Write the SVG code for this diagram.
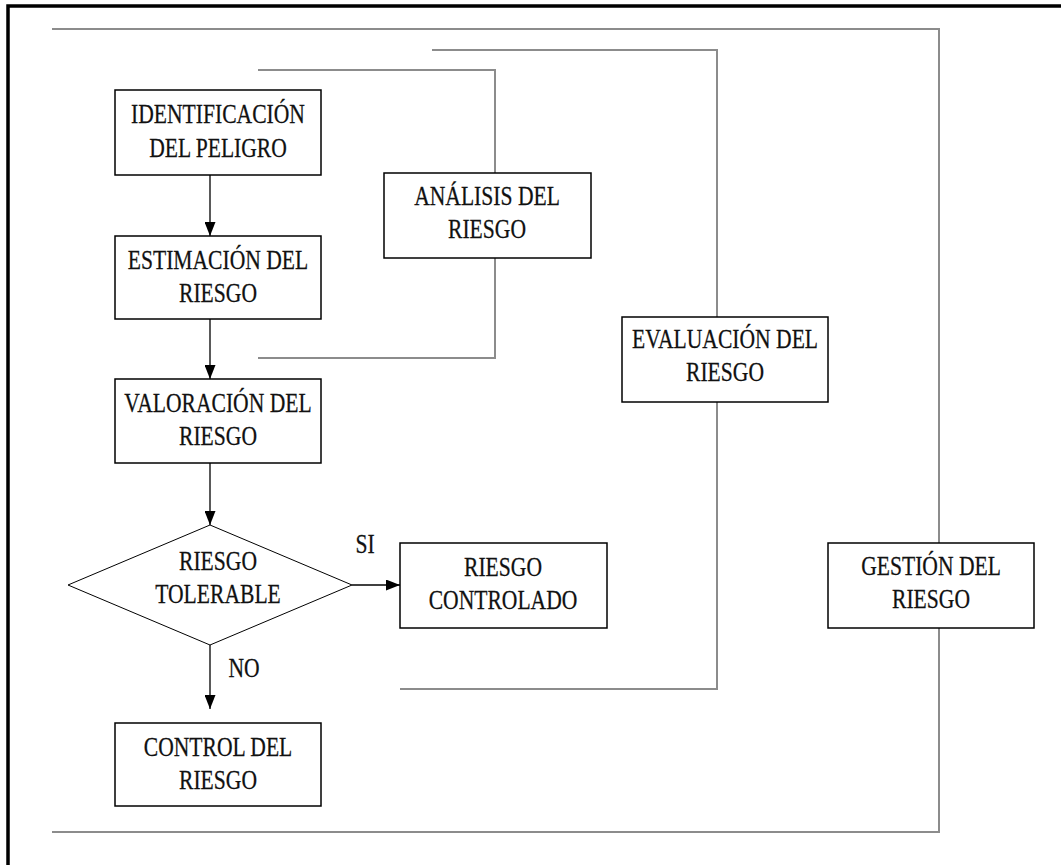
<svg xmlns="http://www.w3.org/2000/svg" width="1061" height="865" viewBox="0 0 1061 865" font-family="Liberation Serif, DejaVu Serif, serif">
<style>
.box{fill:#fff;stroke:#000;stroke-width:1.5}
.dia{fill:#fff;stroke:#000;stroke-width:1}
.br{fill:none;stroke:#8c8c8c;stroke-width:2}
.ar{fill:none;stroke:#000;stroke-width:1.3}
.t{font-family:'Liberation Serif','DejaVu Serif',serif;font-size:27px;fill:#111;stroke:#111;stroke-width:0.25;text-anchor:middle}
</style>
<defs>
<marker id="ah" viewBox="0 0 14 11" refX="14" refY="5.5" markerWidth="14" markerHeight="11" markerUnits="userSpaceOnUse" orient="auto">
<path d="M0,0 L14,5.5 L0,11 Z" fill="#000"/>
</marker>
</defs>
<rect width="1061" height="865" fill="#fff"/>
<path d="M8,865 V6 H1061" fill="none" stroke="#000" stroke-width="3.5"/>
<g id="connectors">
<path class="br" d="M52,29 H939 V832 H52"/>
<path class="br" d="M432,50 H717 V689 H400"/>
<path class="br" d="M258,70 H495 V358 H258"/>
<line class="ar" x1="210" y1="175" x2="210" y2="236" marker-end="url(#ah)"/>
<line class="ar" x1="210" y1="319" x2="210" y2="379" marker-end="url(#ah)"/>
<line class="ar" x1="210" y1="463" x2="210" y2="525" marker-end="url(#ah)"/>
<line class="ar" x1="352" y1="585" x2="400" y2="585" marker-end="url(#ah)"/>
<line class="ar" x1="210" y1="645" x2="210" y2="709" marker-end="url(#ah)"/>
<text class="t" transform="translate(365,553) scale(0.8,1)">SI</text>
<text class="t" transform="translate(244,677) scale(0.8,1)">NO</text>
</g>
<g id="identificacion">
<rect class="box" x="115" y="90" width="206" height="85"/>
<text class="t" transform="translate(218,123) scale(0.8,1)">IDENTIFICACIÓN</text>
<text class="t" transform="translate(218,157) scale(0.8,1)">DEL PELIGRO</text>
</g>
<g id="estimacion">
<rect class="box" x="115" y="236" width="206" height="83"/>
<text class="t" transform="translate(218,269) scale(0.8,1)">ESTIMACIÓN DEL</text>
<text class="t" transform="translate(218,302) scale(0.8,1)">RIESGO</text>
</g>
<g id="valoracion">
<rect class="box" x="115" y="379" width="206" height="84"/>
<text class="t" transform="translate(218,412) scale(0.8,1)">VALORACIÓN DEL</text>
<text class="t" transform="translate(218,445) scale(0.8,1)">RIESGO</text>
</g>
<g id="tolerable">
<polygon class="dia" points="210,525 352,585 210,645 68,585"/>
<text class="t" transform="translate(218,570) scale(0.8,1)">RIESGO</text>
<text class="t" transform="translate(218,603) scale(0.8,1)">TOLERABLE</text>
</g>
<g id="controlado">
<rect class="box" x="400" y="543" width="207" height="85"/>
<text class="t" transform="translate(503,576) scale(0.8,1)">RIESGO</text>
<text class="t" transform="translate(503,609) scale(0.8,1)">CONTROLADO</text>
</g>
<g id="control">
<rect class="box" x="115" y="723" width="206" height="83"/>
<text class="t" transform="translate(218,756) scale(0.8,1)">CONTROL DEL</text>
<text class="t" transform="translate(218,789) scale(0.8,1)">RIESGO</text>
</g>
<g id="analisis">
<rect class="box" x="384" y="173" width="207" height="85"/>
<text class="t" transform="translate(487,205) scale(0.8,1)">ANÁLISIS DEL</text>
<text class="t" transform="translate(487,238) scale(0.8,1)">RIESGO</text>
</g>
<g id="evaluacion">
<rect class="box" x="622" y="317" width="206" height="85"/>
<text class="t" transform="translate(725,348) scale(0.8,1)">EVALUACIÓN DEL</text>
<text class="t" transform="translate(725,381) scale(0.8,1)">RIESGO</text>
</g>
<g id="gestion">
<rect class="box" x="828" y="543" width="206" height="85"/>
<text class="t" transform="translate(931,575) scale(0.8,1)">GESTIÓN DEL</text>
<text class="t" transform="translate(931,608) scale(0.8,1)">RIESGO</text>
</g>
</svg>
